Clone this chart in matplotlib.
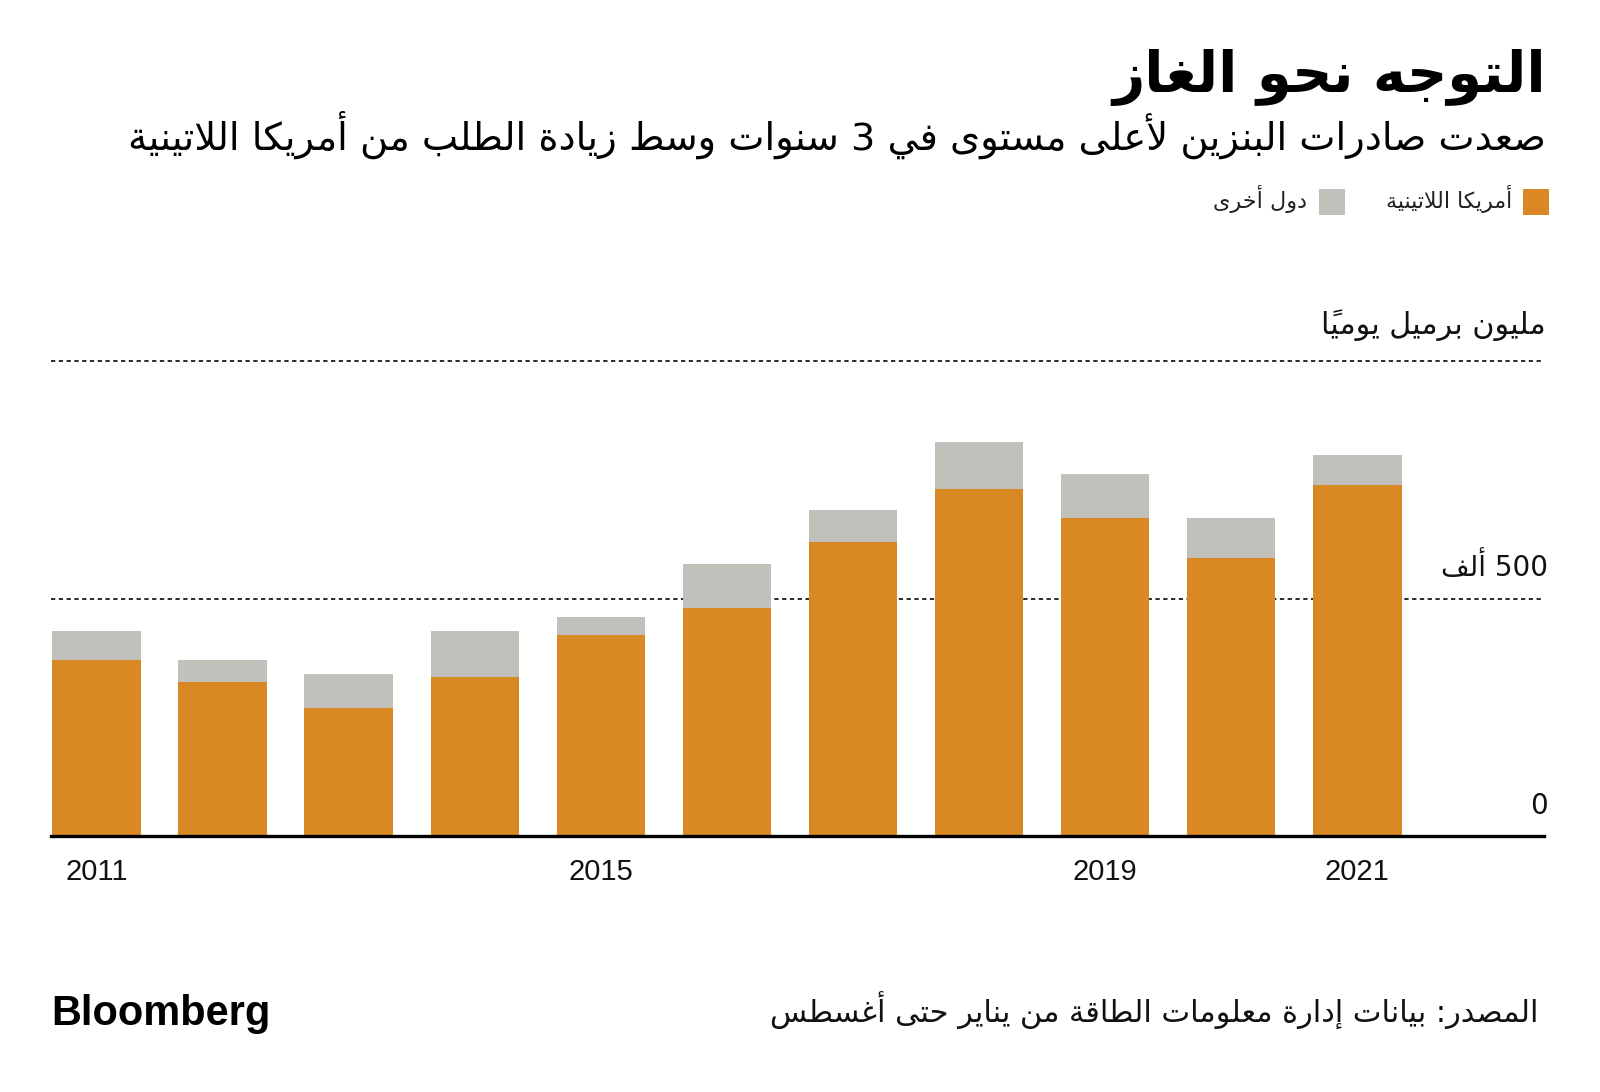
import matplotlib
matplotlib.use("Agg")
import matplotlib.pyplot as plt
from matplotlib.patches import Rectangle

# ---------------- data ----------------
years = [2011, 2012, 2013, 2014, 2015, 2016, 2017, 2018, 2019, 2020, 2021]
latam = [371, 324, 270, 335, 423, 479, 618, 730, 670, 586, 738]
others = [60, 47, 71, 96, 38, 94, 69, 100, 92, 84, 65]
year_ticks = [2011, 2015, 2019, 2021]
y_lines = [0, 500, 1000]
y_labels = {0: "0", 500: "500 ألف"}

title = "التوجه نحو الغاز"
subtitle = "صعدت صادرات البنزين لأعلى مستوى في 3 سنوات وسط زيادة الطلب من أمريكا اللاتينية"
legend_latam = "أمريكا اللاتينية"
legend_others = "دول أخرى"
units = "مليون برميل يومياً"
source = "المصدر: بيانات إدارة معلومات الطاقة من يناير حتى أغسطس"

ORANGE = "#D98924"
GREY = "#C1C0BB"

# ---------------- Arabic shaping (presentation forms + visual order) ----------------
DUAL = {0x0626: 0xFE89, 0x0628: 0xFE8F, 0x062A: 0xFE95, 0x062B: 0xFE99, 0x062C: 0xFE9D,
        0x062D: 0xFEA1, 0x062E: 0xFEA5, 0x0633: 0xFEB1, 0x0634: 0xFEB5, 0x0635: 0xFEB9,
        0x0636: 0xFEBD, 0x0637: 0xFEC1, 0x0638: 0xFEC5, 0x0639: 0xFEC9, 0x063A: 0xFECD,
        0x0641: 0xFED1, 0x0642: 0xFED5, 0x0643: 0xFED9, 0x0644: 0xFEDD, 0x0645: 0xFEE1,
        0x0646: 0xFEE5, 0x0647: 0xFEE9, 0x064A: 0xFEF1}
RIGHT = {0x0622: 0xFE81, 0x0623: 0xFE83, 0x0624: 0xFE85, 0x0625: 0xFE87, 0x0627: 0xFE8D,
         0x0629: 0xFE93, 0x062F: 0xFEA9, 0x0630: 0xFEAB, 0x0631: 0xFEAD, 0x0632: 0xFEAF,
         0x0648: 0xFEED, 0x0649: 0xFEEF}
NONE = {0x0621: 0xFE80}
LAMALEF = {0x0622: 0xFEF5, 0x0623: 0xFEF7, 0x0625: 0xFEF9, 0x0627: 0xFEFB}


def is_mark(c):
    return 0x064B <= ord(c) <= 0x0652


def shape(text):
    toks = []
    i = 0
    while i < len(text):
        c = text[i]
        o = ord(c)
        if is_mark(c) and toks:
            toks[-1][2] += c
            i += 1
            continue
        if o == 0x0644 and i + 1 < len(text) and ord(text[i + 1]) in LAMALEF:
            toks.append(["lamalef", ord(text[i + 1]), ""])
            i += 2
            continue
        if o in DUAL:
            toks.append(["dual", o, ""])
        elif o in RIGHT:
            toks.append(["right", o, ""])
        elif o in NONE:
            toks.append(["none", o, ""])
        else:
            toks.append(["other", c, ""])
        i += 1
    out = []
    for k, (kind, b, marks) in enumerate(toks):
        if kind == "other":
            out.append((b + marks, not ("\u0600" <= b <= "\u06FF") and (b.isdigit() or b.isascii() and b.isalpha())))
            continue
        prev_ok = k > 0 and toks[k - 1][0] == "dual"
        next_ok = kind == "dual" and k + 1 < len(toks) and toks[k + 1][0] in ("dual", "right", "lamalef")
        if kind == "dual":
            base = DUAL[b]
            if prev_ok and next_ok:
                g = base + 3
            elif prev_ok:
                g = base + 1
            elif next_ok:
                g = base + 2
            else:
                g = base
        elif kind == "right":
            g = RIGHT[b] + (1 if prev_ok else 0)
        elif kind == "lamalef":
            g = LAMALEF[b] + (1 if prev_ok else 0)
        else:
            g = NONE[b]
        out.append((chr(g) + marks, False))
    runs = []
    for s, ltr in out:
        if runs and runs[-1][1] == ltr:
            runs[-1][0].append(s)
        else:
            runs.append([[s], ltr])
    res = []
    for items, ltr in reversed(runs):
        res.extend(items if ltr else list(reversed(items)))
    return "".join(res)


# ---------------- figure ----------------
W, H = 1600, 1092
fig = plt.figure(figsize=(W / 100, H / 100), dpi=100)
fig.patch.set_facecolor("white")
renderer = fig.canvas.get_renderer()
AR = ["DejaVu Sans"]


def put(x, y, s, target_w=None, ha="right", va="baseline", **kw):
    t = fig.text(x / W, 1 - y / H, s, ha=ha, va=va, **kw)
    if target_w:
        w = t.get_window_extent(renderer).width
        t.set_fontsize(t.get_fontsize() * target_w / w)
    return t


put(1546, 92, shape(title), 433, family=AR, fontweight="bold", fontsize=40, color="black")
put(1546, 150, shape(subtitle), 1422, family=AR, fontsize=24, color="black")

# legend
fig.patches.append(Rectangle((1523 / W, 1 - 215 / H), 26 / W, 26 / H, transform=fig.transFigure,
                             facecolor=ORANGE, edgecolor="none"))
put(1512, 208, shape(legend_latam), 127, family=AR, fontsize=15, color="#222222")
fig.patches.append(Rectangle((1319 / W, 1 - 215 / H), 26 / W, 26 / H, transform=fig.transFigure,
                             facecolor=GREY, edgecolor="none"))
put(1307, 208, shape(legend_others), 94, family=AR, fontsize=15, color="#222222")

put(1546, 334, shape(units), 225, family=AR, fontsize=20, color="#111111")

# axes
ax_left, ax_right = 51, 1544
ax_top, ax_bottom = 361, 836
ax = fig.add_axes([ax_left / W, 1 - ax_bottom / H, (ax_right - ax_left) / W, (ax_bottom - ax_top) / H])
ax.set_xlim(2010.64, 2022.48)
ax.set_ylim(0, 1000)
ax.axis("off")

for v in y_lines[1:]:
    ax.axhline(v, color="#2a2a2a", linewidth=1.4, linestyle=(0, (2.2, 1.8)), zorder=1, clip_on=False)
ax.bar(years, latam, width=0.70, color=ORANGE, zorder=2)
ax.bar(years, others, width=0.70, bottom=latam, color=GREY, zorder=2)
ax.axhline(0, color="black", linewidth=2.4, zorder=3, clip_on=False)

# y labels (right side, above lines)
for v, s in y_labels.items():
    yp = ax.transData.transform((0, v))[1]
    ypx = H - yp - 22
    put(1548, ypx, shape(s) if not s.isdigit() else s, None, family=AR, fontsize=20, color="#111111")

# x labels
for yr in year_ticks:
    xp = ax.transData.transform((yr, 0))[0]
    put(xp, 880, str(yr), None, ha="center", family=["Liberation Sans"], fontsize=21, color="#111111")

# footer
put(1538, 1023, shape(source), 767, family=AR, fontsize=20, color="#111111")
put(51, 1025, "Bloomberg", 219, ha="left", family=["Liberation Sans"], fontweight="bold",
    fontsize=28, color="black")

fig.savefig("out.png", dpi=100, facecolor="white")
